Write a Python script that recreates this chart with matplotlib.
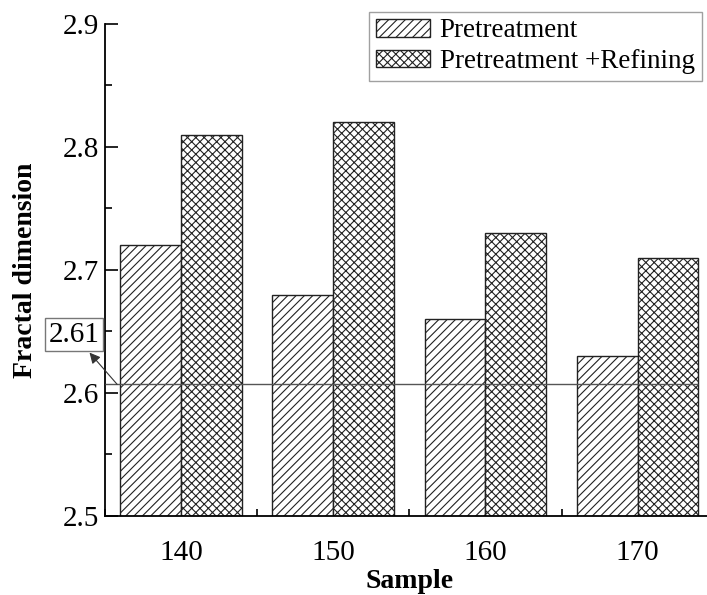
import numpy as np
import matplotlib
matplotlib.use("Agg")
import matplotlib.pyplot as plt
from matplotlib.ticker import MultipleLocator, FuncFormatter

# data
samples = ["140", "150", "160", "170"]
pretreatment = [2.72, 2.68, 2.66, 2.63]
refining = [2.81, 2.82, 2.73, 2.71]
ref_line = 2.607
ref_label = "2.61"

plt.rcParams["font.family"] = ["Liberation Serif", "DejaVu Serif"]
plt.rcParams["hatch.linewidth"] = 0.8
plt.rcParams["hatch.color"] = "#333333"

fig = plt.figure(figsize=(7.07, 5.95), dpi=100)
ax = fig.add_axes([0.1485, 0.1328, 0.861, 0.8269])

x = np.arange(len(samples))
w = 0.4
ax.bar(x - w / 2, pretreatment, w, color="white", edgecolor="#222222",
       linewidth=1.0, hatch="////", label="Pretreatment")
ax.bar(x + w / 2, refining, w, color="white", edgecolor="#222222",
       linewidth=1.0, hatch="xxxx", label="Pretreatment +Refining")

ax.hlines(ref_line, -0.5, x[-1] + w, color="#555555", linewidth=1.0, zorder=3)
ax.annotate(ref_label, xy=(-0.42, ref_line), xytext=(-0.705, 2.6475),
            textcoords="data", fontsize=21, ha="center", va="center",
            annotation_clip=False,
            bbox=dict(boxstyle="square,pad=0.12", fc="white", ec="#777777", lw=1),
            arrowprops=dict(arrowstyle="<|-", color="#333333", lw=0.8,
                            mutation_scale=16, shrinkA=1, shrinkB=0))

ax.set_xlim(-0.5, 3.5)
ax.set_ylim(2.5, 2.9)
ax.set_xticks(x)
ax.set_xticklabels(samples)
ax.xaxis.set_minor_locator(MultipleLocator(1, offset=0.5))
ax.yaxis.set_major_locator(MultipleLocator(0.1))
ax.yaxis.set_minor_locator(MultipleLocator(0.05))
ax.yaxis.set_major_formatter(FuncFormatter(lambda v, p: f"{v:g}"))
ax.tick_params(which="both", direction="in", labelsize=21, width=1.2)
ax.tick_params(which="major", length=9)
ax.tick_params(which="minor", length=5)
ax.tick_params(axis="y", which="major", pad=4)
ax.tick_params(axis="x", which="major", length=0, pad=17)

for s in ["top", "right"]:
    ax.spines[s].set_visible(False)
for s in ["left", "bottom"]:
    ax.spines[s].set_linewidth(1.3)

ax.set_xlabel("Sample", fontsize=20, fontweight="bold")
ax.set_ylabel("Fractal dimension", fontsize=20, fontweight="bold")
ax.xaxis.set_label_coords(0.5, -0.108)
ax.yaxis.set_label_coords(-0.11, 0.5)

leg = ax.legend(loc="upper right", bbox_to_anchor=(0.98, 1.025), fontsize=19.5,
                frameon=True, fancybox=False, edgecolor="#888888",
                handlelength=2.0, handleheight=0.6, handletextpad=0.35,
                borderpad=0.25, labelspacing=0.2, borderaxespad=0)
leg.get_frame().set_linewidth(1.0)

fig.savefig("out.png", dpi=100)
